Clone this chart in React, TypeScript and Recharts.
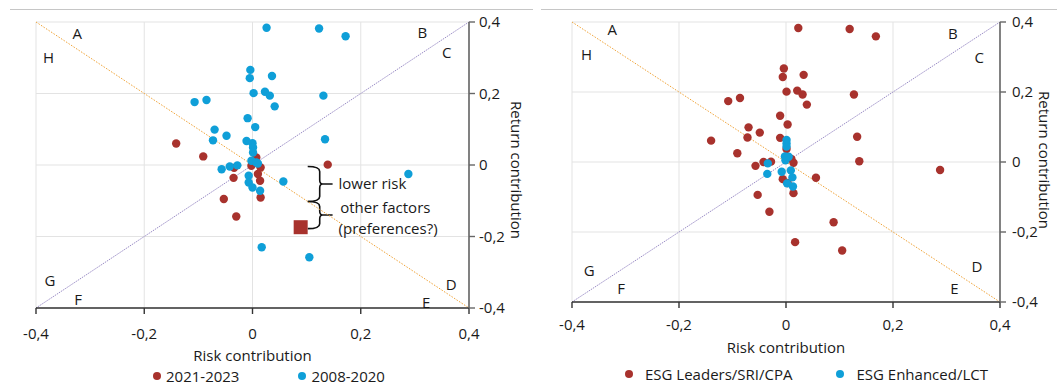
import React from "react";
import {
  ScatterChart,
  Scatter,
  XAxis,
  YAxis,
  CartesianGrid,
  ReferenceLine,
  ReferenceArea,
  Legend,
} from "recharts";

// [risk contribution, return contribution]
const left2021: [number, number][] = [
  [-0.141, 0.06], [-0.091, 0.024], [0.007, 0.021], [-0.002, -0.002], [0.015, -0.007],
  [0.01, -0.025], [0.014, -0.044], [-0.035, -0.036], [-0.034, -0.008], [-0.053, -0.095],
  [0.015, -0.091], [-0.03, -0.144], [0.139, 0.001],
];

const left2008: [number, number][] = [
  [0.026, 0.384], [0.123, 0.382], [0.172, 0.36], [-0.004, 0.266], [-0.005, 0.243],
  [0.036, 0.249], [0.002, 0.201], [0.023, 0.205], [0.032, 0.194], [0.041, 0.164],
  [0.131, 0.194], [-0.107, 0.176], [-0.085, 0.182], [-0.009, 0.131], [0.005, 0.106],
  [-0.07, 0.099], [-0.048, 0.082], [-0.073, 0.069], [0.134, 0.072], [-0.011, 0.067],
  [0.0, 0.061], [0.001, 0.049], [0.001, 0.035], [-0.002, 0.012], [0.007, 0.007],
  [0.01, 0.004], [-0.057, -0.012], [-0.042, -0.004], [-0.028, -0.001], [0.057, -0.046],
  [-0.007, -0.03], [-0.007, -0.049], [0.0, -0.063], [0.014, -0.072], [0.017, -0.23],
  [0.105, -0.258], [0.288, -0.025],
];

// highlighted average point
const leftHighlight: [number, number][] = [[0.089, -0.174]];

const rightLeaders: [number, number][] = [
  [0.023, 0.383], [0.119, 0.38], [0.168, 0.359], [-0.004, 0.267], [-0.006, 0.243],
  [0.033, 0.249], [0.001, 0.201], [0.021, 0.204], [0.031, 0.193], [0.039, 0.164],
  [0.127, 0.193], [-0.108, 0.174], [-0.086, 0.183], [-0.011, 0.132], [0.003, 0.107],
  [-0.07, 0.099], [-0.049, 0.084], [-0.072, 0.07], [0.133, 0.072], [-0.011, 0.069],
  [-0.14, 0.061], [-0.091, 0.025], [0.001, 0.037], [0.01, 0.009], [0.014, -0.002],
  [-0.042, 0.0], [-0.028, 0.001], [-0.057, -0.011], [-0.006, -0.049], [0.056, -0.045],
  [0.014, -0.089], [-0.053, -0.094], [-0.031, -0.142], [0.089, -0.172], [0.017, -0.229],
  [0.105, -0.253], [0.137, 0.002], [0.288, -0.023], [0.003, -0.06],
];

const rightEnhanced: [number, number][] = [
  [0.001, 0.063], [0.001, 0.053], [0.001, 0.044], [-0.002, 0.016], [0.005, 0.015],
  [-0.001, 0.005], [-0.034, -0.004], [-0.035, -0.034], [-0.008, -0.028], [0.009, -0.024],
  [0.012, -0.044], [0.002, -0.061], [0.013, -0.07],
];

const ticks = [-0.4, -0.2, 0, 0.2, 0.4];

const leftSeries = ["2021-2023", "2008-2020"];
const rightSeries = ["ESG Leaders/SRI/CPA", "ESG Enhanced/LCT"];

const leftLetters: [string, number, number][] = [
  ["A", -0.324, 0.37], ["B", 0.314, 0.373], ["C", 0.359, 0.315], ["D", 0.367, -0.332],
  ["E", 0.321, -0.384], ["F", -0.322, -0.374], ["G", -0.374, -0.323], ["H", -0.377, 0.301],
];

const rightLetters: [string, number, number][] = [
  ["A", -0.325, 0.38], ["B", 0.312, 0.368], ["C", 0.361, 0.301], ["D", 0.357, -0.297],
  ["E", 0.315, -0.359], ["F", -0.308, -0.359], ["G", -0.368, -0.309], ["H", -0.373, 0.308],
];

const notes: [string, number, number][] = [
  ["lower risk", 0.159, -0.051],
  ["other factors", 0.162, -0.117],
  ["(preferences?)", 0.159, -0.177],
];

// [x1, x2, yTop, yBottom]
const braces: [number, number, number, number][] = [
  [0.102, 0.148, -0.004, -0.102],
  [0.102, 0.148, -0.102, -0.178],
];

const RED = "#a8322d";
const BLUE = "#0f9fd8";
const FONT = '"Open Sans", sans-serif';
const FS = 15;
const INK = "#1a1a1a";

const pts = (arr: [number, number][]) => arr.map(([x, y]) => ({ x, y }));
const labels = (arr: [string, number, number][]) =>
  arr.map(([t, x, y]) => ({ t, x, y }));

const fmt = (v: number) => (v === 0 ? "0" : v.toFixed(1).replace(".", ","));

const dot = (fill: string) => (p: any) =>
  <circle cx={p.cx} cy={p.cy} r={4.2} fill={fill} />;

const square = (p: any) => (
  <rect x={p.cx - 7} y={p.cy - 7} width={14} height={14} fill={RED} />
);

const letter = (anchor: "middle" | "start") => (p: any) => (
  <text
    x={p.cx}
    y={p.cy}
    textAnchor={anchor}
    dominantBaseline="central"
    fontSize={FS}
    fontFamily={FONT}
    fill={INK}
  >
    {p.payload.t}
  </text>
);

const brace = (p: any) => {
  const { x, y, width, height } = p;
  const xs = x + 12;
  const xt = x + width;
  const ym = y + height / 2;
  const yb = y + height;
  const d = `M${x},${y} Q${xs},${y} ${xs},${y + 5} L${xs},${ym - 4} Q${xs},${ym} ${xt - 10},${ym} L${xt},${ym} M${xt - 10},${ym} Q${xs},${ym} ${xs},${ym + 4} L${xs},${yb - 5} Q${xs},${yb} ${x},${yb}`;
  return <path d={d} fill="none" stroke="#111" strokeWidth={1.6} />;
};

function LegendRow({ payload, order, start, iconGap, itemGap }: any) {
  const items = (payload || [])
    .filter((p: any) => order.includes(p.value))
    .sort((a: any, b: any) => order.indexOf(a.value) - order.indexOf(b.value));
  return (
    <div
      style={{
        height: 18,
        display: "flex",
        alignItems: "center",
        paddingLeft: start,
        fontSize: FS,
        fontFamily: FONT,
        color: INK,
        whiteSpace: "nowrap",
      }}
    >
      {items.map((p: any, i: number) => (
        <span
          key={i}
          style={{ display: "flex", alignItems: "center", marginRight: itemGap }}
        >
          <svg width={8} height={8}>
            <circle cx={4} cy={4} r={4} fill={p.color} />
          </svg>
          <span style={{ marginLeft: iconGap }}>{p.value}</span>
        </span>
      ))}
    </div>
  );
}

interface PanelProps {
  width: number;
  margin: { top: number; right: number; bottom: number; left: number };
  yWidth: number;
  xHeight: number;
  xTickMargin: number;
  yTickMargin: number;
  xLabelOffset: number;
  yLabelDx: number;
  yLabelDy: number;
  legend: { order: string[]; start: number; iconGap: number; itemGap: number };
  letters: [string, number, number][];
  children: React.ReactNode;
}

function Panel(props: PanelProps) {
  const tickStyle = { fontSize: FS, fill: INK, fontFamily: FONT };
  return (
    <ScatterChart width={props.width} height={385} margin={props.margin}>
      <CartesianGrid stroke="#e3e3e3" strokeWidth={1} />
      <XAxis
        type="number"
        dataKey="x"
        domain={[-0.4, 0.4]}
        ticks={ticks}
        tickFormatter={fmt}
        tick={tickStyle}
        tickSize={6}
        tickMargin={props.xTickMargin}
        height={props.xHeight}
        axisLine={{ stroke: "#333", strokeWidth: 1.4 }}
        tickLine={{ stroke: "#333", strokeWidth: 1.4 }}
        allowDataOverflow
        label={{
          value: "Risk contribution",
          position: "insideBottom",
          offset: props.xLabelOffset,
          fontSize: FS,
          fill: INK,
          fontFamily: FONT,
        }}
      />
      <YAxis
        type="number"
        dataKey="y"
        orientation="right"
        domain={[-0.4, 0.4]}
        ticks={ticks}
        tickFormatter={fmt}
        tick={{ ...tickStyle, textAnchor: "start" }}
        tickSize={6}
        tickMargin={props.yTickMargin}
        width={props.yWidth}
        axisLine={{ stroke: "#666", strokeWidth: 1.6 }}
        tickLine={{ stroke: "#666", strokeWidth: 1.4 }}
        allowDataOverflow
        label={{
          value: "Return contribution",
          angle: 90,
          position: "center",
          dx: props.yLabelDx,
          dy: props.yLabelDy,
          fontSize: FS,
          fill: INK,
          fontFamily: FONT,
        }}
      />
      <ReferenceLine
        segment={[{ x: -0.4, y: 0.4 }, { x: 0.4, y: -0.4 }]}
        stroke="#f0a235"
        strokeDasharray="1.5 1.5"
        strokeWidth={1}
      />
      <ReferenceLine
        segment={[{ x: -0.4, y: -0.4 }, { x: 0.4, y: 0.4 }]}
        stroke="#9a8cc6"
        strokeDasharray="1.5 1"
        strokeWidth={1}
      />
      {props.children}
      <Scatter
        data={labels(props.letters)}
        shape={letter("middle")}
        legendType="none"
        isAnimationActive={false}
      />
      <Legend
        verticalAlign="bottom"
        align="left"
        content={(lp: any) => <LegendRow payload={lp.payload} {...props.legend} />}
      />
    </ScatterChart>
  );
}

export default function App() {
  return (
    <div
      style={{
        position: "absolute",
        left: 0,
        top: 0,
        width: 1057,
        height: 385,
        background: "#fff",
        fontFamily: FONT,
      }}
    >
      <div style={{ position: "absolute", left: 10, top: 9, width: 523, borderTop: "1px solid #c6c6c6" }} />
      <div style={{ position: "absolute", left: 541, top: 9, width: 516, borderTop: "1px solid #c6c6c6" }} />
      <div style={{ position: "absolute", left: 0, top: 0 }}>
        <Panel
          width={530}
          margin={{ top: 22, right: 1, bottom: 0, left: 36 }}
          yWidth={60}
          xHeight={59}
          xTickMargin={14}
          yTickMargin={4}
          xLabelOffset={6}
          yLabelDx={17}
          yLabelDy={5}
          legend={{ order: leftSeries, start: 117, iconGap: 5, itemGap: 59 }}
          letters={leftLetters}
        >
          {braces.map(([x1, x2, y1, y2], i) => (
            <ReferenceArea key={i} x1={x1} x2={x2} y1={y1} y2={y2} shape={brace} />
          ))}
          <Scatter
            name={leftSeries[0]}
            data={pts(left2021)}
            fill={RED}
            shape={dot(RED)}
            isAnimationActive={false}
          />
          <Scatter
            name={leftSeries[1]}
            data={pts(left2008)}
            fill={BLUE}
            shape={dot(BLUE)}
            isAnimationActive={false}
          />
          <Scatter
            data={pts(leftHighlight)}
            shape={square}
            legendType="none"
            isAnimationActive={false}
          />
          <Scatter
            data={labels(notes)}
            shape={letter("start")}
            legendType="none"
            isAnimationActive={false}
          />
        </Panel>
      </div>
      <div style={{ position: "absolute", left: 530, top: 0 }}>
        <Panel
          width={527}
          margin={{ top: 22, right: 0, bottom: 2, left: 42 }}
          yWidth={57}
          xHeight={63}
          xTickMargin={11}
          yTickMargin={6}
          xLabelOffset={12}
          yLabelDx={16}
          yLabelDy={-2}
          legend={{ order: rightSeries, start: 53, iconGap: 12, itemGap: 44 }}
          letters={rightLetters}
        >
          <Scatter
            name={rightSeries[0]}
            data={pts(rightLeaders)}
            fill={RED}
            shape={dot(RED)}
            isAnimationActive={false}
          />
          <Scatter
            name={rightSeries[1]}
            data={pts(rightEnhanced)}
            fill={BLUE}
            shape={dot(BLUE)}
            isAnimationActive={false}
          />
        </Panel>
      </div>
    </div>
  );
}
